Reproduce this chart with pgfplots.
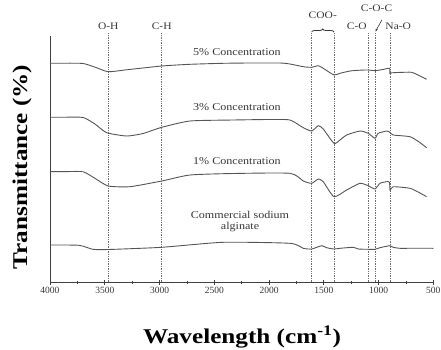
\documentclass[border=0pt]{standalone}
\usepackage{pgfplots}
\pgfplotsset{compat=1.18}
\usepackage{fontspec}
\setmainfont{Liberation Serif}
\usetikzlibrary{decorations.pathreplacing,arrows.meta}
\definecolor{curve}{RGB}{85,85,85}
\definecolor{txt}{RGB}{55,55,55}
\definecolor{dotc}{RGB}{110,110,110}
\newcommand\wid[2][1.15]{\scalebox{#1}[1]{#2}}
\begin{document}
\begin{tikzpicture}
\path[use as bounding box] (-50pt,-67pt) rectangle (391pt,282pt);
\begin{axis}[
  at={(0,0)}, anchor=south west,
  scale only axis, width=383.3pt, height=246pt,
  x dir=reverse, xmin=500, xmax=4000, ymin=18, ymax=264,
  axis lines=left, axis line style={-, color=black!75, line width=0.8pt},
  xtick={500,1000,...,4000}, minor x tick num=1,
  ytick=\empty,
  tick align=center, major tick length=5pt, minor tick length=3pt,
  every tick/.style={black!75, line width=0.6pt},
  /pgf/number format/assume math mode=true,
  /pgf/number format/1000 sep={},
  xticklabel style={font=\fontsize{9.5}{10}\selectfont, text=txt, yshift=1pt},
  xlabel={\wid[1.2]{\bfseries Wavelength (cm\textsuperscript{-1})}},
  xlabel style={at={(axis description cs:0.501,0)}, anchor=center, yshift=-55pt, font=\fontsize{21}{24}\selectfont},
  clip=false,
]
\pgfplotsset{sp/.style={draw=curve, no markers, line width=0.9pt, smooth, tension=0.35}}
% dotted reference lines
\foreach \w in {3468,2980,1611,1407,1094,1033,896}{
  \edef\tmp{\noexpand\draw[dotc, densely dotted, line width=0.7pt] (axis cs:\w,18) -- (axis cs:\w,267);}
  \tmp
}
% 5% Concentration
\addplot[sp] coordinates {
(4000,236.7) (3850,236.8) (3696,236.5) (3580,232.5) (3468,228.3) (3300,230.2) (2980,234) (2722,235.7)
(2420,236.7) (2174,237) (1900,237) (1809,236) (1687,233.3) (1611,232.7) (1550,234.3)
(1505,231.7) (1407,225) (1352,226.7) (1261,229) (1170,229.8) (1094,230) (1033,229.3) (960,230.5) (900,231.7)
(896,226.5) (880,227.2) (800,227.6) (698,227.7) (630,224.5) (561,220.7)};
% 3% Concentration
\addplot[sp] coordinates {
(4000,182.7) (3850,182.8) (3696,182.5) (3590,176) (3482,167.3) (3300,164) (3150,166.5) (2980,172.7)
(2722,179) (2329,180) (2000,180.5) (1809,180) (1687,172.3) (1611,169) (1550,174.3)
(1505,171) (1407,156.7) (1352,160) (1291,165) (1170,169) (1094,166.7) (1033,161.7)
(1003,166.7) (926,169) (896,167.7) (866,165) (713,163.3) (630,158) (561,152.3)};
% 1% Concentration
\addplot[sp] coordinates {
(4000,128.3) (3850,128.4) (3696,128.2) (3580,121) (3468,114) (3270,113.3) (2980,119)
(2722,125) (2329,126.5) (1809,126.7) (1687,119) (1611,116.7) (1550,121) (1505,118.3)
(1407,103.3) (1291,110) (1170,116.7) (1094,114.3) (1033,111) (987,116.7) (926,118.3)
(900,117.7) (895,110) (866,113.3) (713,111.7) (630,107.5) (561,103.3)};
% Commercial sodium alginate
\addplot[sp] coordinates {
(4000,55) (3735,54.7) (3607,50.7) (3468,50.5) (2980,52.7) (2420,57.7) (1809,56.7)
(1687,51.7) (1611,51) (1519,54.3) (1474,52.3) (1407,51) (1352,51.7) (1231,52.7)
(1185,51) (1094,50.7) (1033,50.7) (987,52.3) (896,54.3) (866,52.7) (804,51.7) (650,51.8) (500,51.7)};
% curve labels
\node[text=txt, font=\fontsize{10.5}{12}\selectfont] at (axis cs:2293,248) {\wid{5\% Concentration}};
\node[text=txt, font=\fontsize{10.5}{12}\selectfont] at (axis cs:2293,193) {\wid{3\% Concentration}};
\node[text=txt, font=\fontsize{10.5}{12}\selectfont] at (axis cs:2293,139) {\wid{1\% Concentration}};
\node[text=txt, font=\fontsize{10.5}{12}\selectfont, align=center, inner sep=0pt] at (axis cs:2265,79) {\wid{Commercial sodium}\\[-1pt]\wid{alginate}};
% peak labels
\node[text=txt, font=\fontsize{10}{12}\selectfont] at (axis cs:3468,274) {\wid{O-H}};
\node[text=txt, font=\fontsize{10}{12}\selectfont] at (axis cs:2980,274) {\wid{C-H}};
\node[text=txt, font=\fontsize{10}{12}\selectfont] at (axis cs:1509,285) {\wid{COO-}};
\node[text=txt, font=\fontsize{10}{12}\selectfont] at (axis cs:1199,274) {\wid{C-O}};
\node[text=txt, font=\fontsize{10}{12}\selectfont] at (axis cs:1018,291.7) {\wid{C-O-C}};
\node[text=txt, font=\fontsize{10}{12}\selectfont] at (axis cs:820,274) {\wid{Na-O}};
\draw[txt, line width=0.8pt, decorate, decoration={brace, amplitude=3pt}] (axis cs:1611,268) -- (axis cs:1407,268);
\draw[txt, line width=0.6pt, -{Stealth[length=3pt]}] (axis cs:970,280) -- (axis cs:1028,268.5);
\end{axis}
\node[rotate=90, font=\fontsize{21}{24}\selectfont] at (-28pt,115pt) {\wid[1.2]{\bfseries Transmittance (\%)}};
\end{tikzpicture}
\end{document}
